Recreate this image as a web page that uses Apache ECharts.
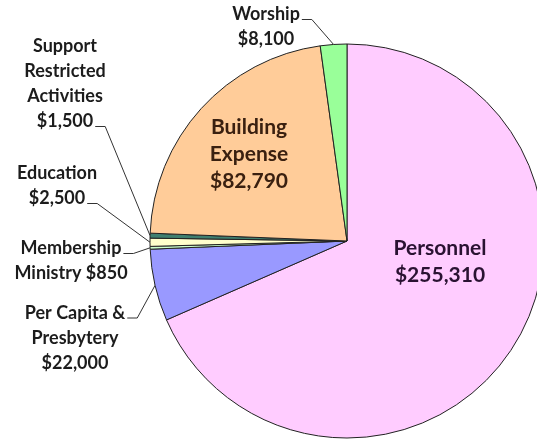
<!DOCTYPE html>
<html>
<head>
<meta charset="utf-8">
<script src="https://cdn.jsdelivr.net/npm/echarts@6.0.0/dist/echarts.min.js"></script>
<style>
  html, body { margin: 0; padding: 0; background: #fff; }
  #chart { width: 537px; height: 440px; }
</style>
</head>
<body>
<div id="chart"></div>
<script>
// data, clockwise from 12 o'clock
const categories = ['Personnel', 'Per Capita & Presbytery', 'Membership Ministry', 'Education',
  'Support Restricted Activities', 'Building Expense', 'Worship']
const amounts = [255310, 22000, 850, 2500, 1500, 82790, 8100]
// how each name wraps on the label, and what joins it to the amount
const labelNames = ['Personnel', 'Per Capita &\nPresbytery', 'Membership\nMinistry', 'Education',
  'Support\nRestricted\nActivities', 'Building\nExpense', 'Worship']
const valueJoin = ['\n', '\n', ' ', '\n', '\n', '\n', '\n']

// styling / layout
const colors = ['#FFCCFF', '#9999FF', '#CCFFCC', '#FFFFCC', '#3F7F70', '#FFCC99', '#99FF99']
const insideIdx = [0, 5]
const labelCenter = [[440, 262], [75, 338], [71, 261], [57, 186], [65, 84], [249, 154], [266, 27]]
const anchorLine = [0, 0, 0, 1, 3, 0, 0]
const outFont = 18, inFont = 21, outLH = 25, inLH = 27
const fontFamily = 'Lato'

const labelText = i => labelNames[i] + valueJoin[i] + '$' + amounts[i].toLocaleString('en-US')

const ctx = document.createElement('canvas').getContext('2d')
ctx.font = 'bold ' + outFont + 'px ' + fontFamily

const chart = echarts.init(document.getElementById('chart'), null, { renderer: 'canvas' })
chart.setOption({
  backgroundColor: '#fff',
  animation: false,
  series: [{
    type: 'pie',
    center: [347, 241],
    radius: 197,
    startAngle: 90,
    clockwise: true,
    avoidLabelOverlap: false,
    itemStyle: { borderColor: '#222', borderWidth: 1 },
    label: {
      show: true,
      position: 'outside',
      formatter: p => labelText(p.dataIndex),
      color: '#1c1c1c',
      fontFamily: fontFamily,
      fontWeight: 'bold',
      fontSize: outFont,
      lineHeight: outLH,
      align: 'center'
    },
    labelLine: { show: true, lineStyle: { color: '#333', width: 1 } },
    labelLayout: params => {
      const i = params.dataIndex
      const [cx, cy] = labelCenter[i]
      const res = { x: cx, y: cy, align: 'center', verticalAlign: 'middle' }
      if (insideIdx.indexOf(i) < 0 && params.labelLinePoints) {
        const lines = labelText(i).split('\n')
        const top = cy - lines.length * outLH / 2
        const li = anchorLine[i]
        const w = ctx.measureText(lines[li]).width
        const ax = cx + w / 2 + 2
        const ay = top + li * outLH + outLH / 2 + 5
        res.labelLinePoints = [params.labelLinePoints[0].slice(), [ax + 10, ay], [ax, ay]]
      }
      return res
    },
    data: categories.map((name, i) => {
      const inside = insideIdx.indexOf(i) >= 0
      return {
        name: name,
        value: amounts[i],
        itemStyle: { color: colors[i] },
        label: inside
          ? { position: 'inside', fontSize: inFont, lineHeight: inLH, color: i === 0 ? '#2a1232' : '#3a2010' }
          : {},
        labelLine: { show: !inside }
      }
    }),
    emphasis: { disabled: true }
  }]
})
</script>
</body>
</html>
